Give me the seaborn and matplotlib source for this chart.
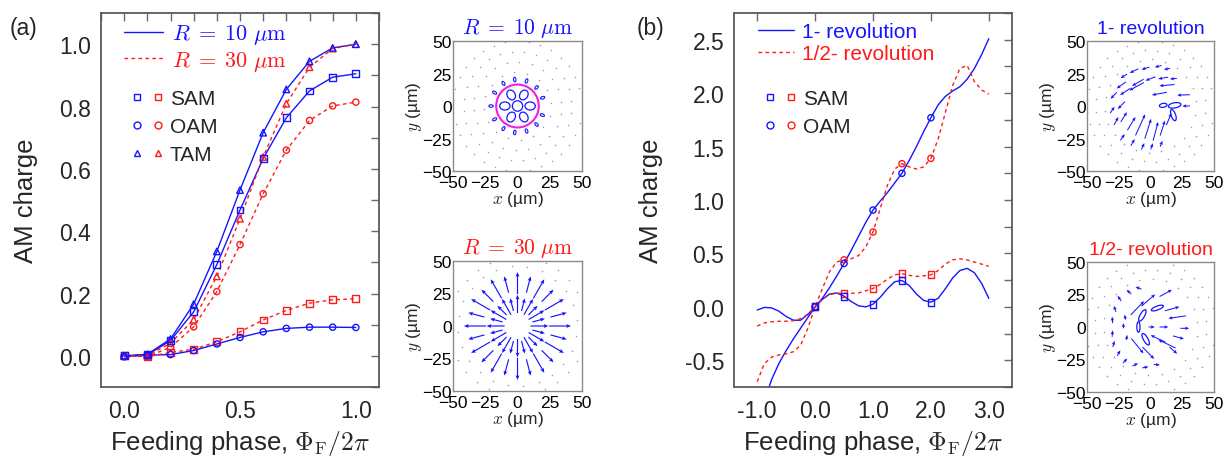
import numpy as np
import matplotlib
matplotlib.use("Agg")
import matplotlib.pyplot as plt
from matplotlib.patches import Ellipse, Circle
from matplotlib.lines import Line2D
from matplotlib.legend_handler import HandlerTuple
from matplotlib.ticker import MultipleLocator, FormatStrFormatter
import seaborn as sns

# ---------------- panel (a): R = 10 um (blue) / R = 30 um (red)
phase_a = [0.0, 0.1, 0.2, 0.3, 0.4, 0.5, 0.6, 0.7, 0.8, 0.9, 1.0]
sam_r10 = [0.0, 0.003, 0.049, 0.141, 0.293, 0.468, 0.633, 0.764, 0.850, 0.894, 0.905]
oam_r10 = [-0.003, 0.002, 0.004, 0.017, 0.038, 0.059, 0.077, 0.088, 0.092, 0.092, 0.091]
tam_r10 = [0.0, 0.005, 0.054, 0.166, 0.335, 0.532, 0.716, 0.855, 0.945, 0.988, 1.0]
sam_r30 = [0.0, -0.003, 0.011, 0.021, 0.045, 0.077, 0.115, 0.146, 0.169, 0.180, 0.183]
oam_r30 = [0.0, -0.002, 0.027, 0.093, 0.206, 0.357, 0.520, 0.660, 0.755, 0.802, 0.814]
tam_r30 = [0.0, 0.0, 0.041, 0.116, 0.255, 0.440, 0.638, 0.809, 0.926, 0.986, 1.0]

# ---------------- panel (b): 1-revolution (blue) / 1/2-revolution (red)
phase_b = [-1.0, -0.875, -0.75, -0.625, -0.5, -0.375, -0.25, -0.125,
           0.0, 0.125, 0.25, 0.375, 0.5, 0.625, 0.75, 0.875,
           1.0, 1.125, 1.25, 1.375, 1.5, 1.625, 1.75, 1.875,
           2.0, 2.125, 2.25, 2.375, 2.5, 2.625, 2.75, 2.875, 3.0]
oam_1rev = [-1.10, -0.88, -0.68, -0.53, -0.41, -0.30, -0.20, -0.10,
            0.0, 0.08, 0.18, 0.29, 0.406, 0.53, 0.66, 0.79,
            0.906, 0.99, 1.07, 1.16, 1.25, 1.37, 1.50, 1.64,
            1.77, 1.89, 1.97, 2.02, 2.06, 2.13, 2.23, 2.36, 2.51]
oam_half = [-0.70, -0.53, -0.47, -0.45, -0.44, -0.42, -0.36, -0.20,
            0.0, 0.17, 0.33, 0.42, 0.44, 0.45, 0.48, 0.56,
            0.70, 0.92, 1.14, 1.29, 1.34, 1.31, 1.29, 1.31,
            1.39, 1.57, 1.82, 2.07, 2.23, 2.26, 2.11, 2.03, 1.99]
sam_1rev = [-0.03, -0.005, -0.01, -0.04, -0.09, -0.125, -0.125, -0.07,
            0.0, 0.07, 0.12, 0.13, 0.10, 0.05, 0.01, 0.0,
            0.025, 0.09, 0.17, 0.235, 0.247, 0.20, 0.12, 0.06,
            0.044, 0.08, 0.17, 0.27, 0.34, 0.36, 0.32, 0.22, 0.08]
sam_half = [-0.18, -0.15, -0.14, -0.135, -0.135, -0.13, -0.11, -0.07,
            0.0, 0.07, 0.115, 0.127, 0.128, 0.127, 0.13, 0.15,
            0.172, 0.21, 0.26, 0.30, 0.31, 0.295, 0.285, 0.29,
            0.30, 0.34, 0.40, 0.44, 0.45, 0.44, 0.42, 0.40, 0.38]
phase_b_pts = [0.0, 0.5, 1.0, 1.5, 2.0]
oam_1rev_pts = [0.0, 0.406, 0.906, 1.25, 1.77]
oam_half_pts = [0.0, 0.44, 0.70, 1.34, 1.39]
sam_1rev_pts = [0.0, 0.10, 0.025, 0.247, 0.044]
sam_half_pts = [0.0, 0.128, 0.172, 0.31, 0.30]

# ---------------- inset fields (positions in um)
# R = 10 um: petals inside the ring, small ellipses outside
r10_petal_ang = [0, 60, 120, 180, 240, 300]
r10_outer_ang = [18, 44, 70, 96, 122, 150, 180, 210, 238, 264, 290, 316, 340]
r10_ring_radius = 16.5
# R = 30 um: radial arrows
r30_ang = list(range(0, 360, 15))
r30_rings = [17, 33]
r30_len_long = [14, 17]
r30_len_short = [10, 13]
# 1-revolution: x, y, direction (deg), length
rev1_x = [-21, -13, -4, 6, 13, -23, -10, 0, 10, 18, -20, -11, 7, 13, 26,
          -29, -23, -30, -27, -21, -15, -8, -2, 4, 9.5, 14.5, -22, -14, -6, 1, 8.5, 28]
rev1_y = [23, 27, 29, 30.5, 28.5, 16, 18, 21, 21.5, 21, 11, 15, 9.5, 16, 8.5,
          8, 0.5, -3, -11.5, -8.5, -13.5, -14.5, -17.5, -19.5, -17, -10, -24, -28, -31, -31, -29, 0]
rev1_dir = [210, 205, 197, 194, 190, 215, 210, 200, 190, 185, 213, 208, 190, 185, 182,
            225, 225, 55, 60, 57, 58, 65, 72, 75, 72, 67, 55, 60, 65, 70, 70, 180]
rev1_len = [6, 7.5, 6.5, 5.5, 5, 9, 10.5, 8.5, 8, 5.5, 9.5, 13, 12, 12, 10,
            7, 8, 6, 7, 9, 12, 18, 16, 15, 12, 10, 6, 6, 5.5, 5, 5, 6]
rev1_ell = [(10, 0.5, 6, 3, 10), (19, 0.5, 10, 4, 10), (18, -7, 3.5, 9, 20)]
# 1/2-revolution: x, y, direction (deg), length
half_x = [-30, -30, -29, -25, -20, -12, -4, 5, -28, -24.5, -17, -9.5,
          -10.3, -1.7, 12, 17, 21, 1, 10.6, 27, -10.3, -1.7, 6, 13, 18, 22,
          -20, -21.3, -18.7]
half_y = [5.5, -5, -13, -20, -26, -29, -31, -29, 14, 22, 27, 30,
          14.6, 20.6, 26, 14, 7.6, 0, 0, -1, -14.6, -20, -9, -13, -18, -8,
          7.6, 1, -8]
half_dir = [95, 85, 75, 60, 45, 25, 10, -5, 110, 125, 140, 160,
            45, 40, 28, 15, 188, 0, 0, 0, -50, -45, 155, 155, -40, -15,
            100, 90, 80]
half_len = [5, 5, 5, 5, 5, 5, 5, 5, 5, 5, 5, 5,
            15, 14, 11, 12, 14, 5, 7, 7, 15, 13, 13, 15, 8, 9,
            4, 4, 4]
half_ell = [(-9.5, 0, 2.5, 8, 0), (-6.4, 8.9, 3.5, 10, -30), (5.4, 14.6, 10, 3, 20),
            (-3.8, -9.4, 3.5, 10, 30)]

BLUE = "#1515ff"
RED = "#ff1a1a"
DOT = "#9a9ac0"

sns.set_theme(style="white")
plt.rcParams["font.family"] = ["Liberation Sans", "DejaVu Sans"]
plt.rcParams["mathtext.fontset"] = "cm"

W, H = 1225, 460
fig = plt.figure(figsize=(W / 100, H / 100), dpi=100)


def px_axes(l, t, r, b):
    return fig.add_axes([l / W, 1 - b / H, (r - l) / W, (b - t) / H])


def style_main(ax, xlim, ylim, xmaj, xmin, ymaj, ymin):
    ax.set_xlim(*xlim)
    ax.set_ylim(*ylim)
    ax.xaxis.set_major_locator(MultipleLocator(xmaj))
    ax.xaxis.set_minor_locator(MultipleLocator(xmin))
    ax.yaxis.set_major_locator(MultipleLocator(ymaj))
    ax.yaxis.set_minor_locator(MultipleLocator(ymin))
    ax.xaxis.set_major_formatter(FormatStrFormatter("%.1f"))
    ax.yaxis.set_major_formatter(FormatStrFormatter("%.1f"))
    ax.tick_params(which="both", direction="in", top=True, right=True,
                   length=6, width=1, color="#6a6a6a", labelsize=16.5)
    ax.tick_params(axis="x", pad=9)
    ax.tick_params(axis="y", pad=7)
    for s in ax.spines.values():
        s.set_color("#5a5a5a")
        s.set_linewidth(1.3)
    ax.set_xlabel(r"Feeding phase, $\Phi_\mathrm{F}/2\pi$", fontsize=18.5)
    ax.set_ylabel("AM charge", fontsize=18.5)


def curve(ax, x, y, color, dashed):
    ls = (0, (2.6, 2.4)) if dashed else "-"
    sns.lineplot(x=x, y=y, ax=ax, color=color, lw=1.0, linestyle=ls, sort=False)


def pts(ax, x, y, color, marker, size):
    sns.scatterplot(x=x, y=y, ax=ax, marker=marker, s=size, facecolor="none",
                    edgecolor=color, linewidth=1.0, zorder=5)


def marker_legend(ax, names, markers, anchor):
    handles = []
    for m in markers:
        handles.append((Line2D([], [], marker=m, ls="none", mfc="none", mec=BLUE, ms=5, mew=1),
                        Line2D([], [], marker=m, ls="none", mfc="none", mec=RED, ms=5, mew=1)))
    leg = ax.legend(handles, names, handler_map={tuple: HandlerTuple(ndivide=None, pad=0.8)},
                    loc="upper left", bbox_to_anchor=anchor, frameon=False, fontsize=15,
                    handlelength=1.25, handletextpad=0.45, labelspacing=0.44,
                    borderaxespad=0, borderpad=0)
    return leg


def line_legend(ax, labels, anchor, size):
    handles = [Line2D([], [], color=BLUE, lw=1.0),
               Line2D([], [], color=RED, lw=1.0, ls=(0, (2.6, 2.4)))]
    leg = ax.legend(handles, labels, loc="upper left", bbox_to_anchor=anchor, frameon=False,
                    fontsize=size, handlelength=1.75, handletextpad=0.4, labelspacing=0.12,
                    borderaxespad=0, borderpad=0)
    leg.get_texts()[0].set_color(BLUE)
    leg.get_texts()[1].set_color(RED)
    ax.add_artist(leg)
    return leg


def style_inset(ax, title, tcolor, tsize):
    ax.set_xlim(-50, 50)
    ax.set_ylim(-50, 50)
    ax.set_xticks([-50, -25, 0, 25, 50])
    ax.set_yticks([-50, -25, 0, 25, 50])
    ax.tick_params(length=0, labelsize=12.5, colors="black")
    ax.tick_params(axis="x", pad=3)
    ax.tick_params(axis="y", pad=1)
    for s in ax.spines.values():
        s.set_color("#8a8a8a")
        s.set_linewidth(1.0)
    ax.set_xlabel(r"$x$ (µm)", fontsize=12.5, labelpad=-1)
    ax.set_ylabel(r"$y$ (µm)", fontsize=12.5, labelpad=-1)
    ax.set_title(title, color=tcolor, fontsize=tsize, pad=6)


def ring_dots(ax, radii, counts):
    for r, n in zip(radii, counts):
        a = np.linspace(0, 2 * np.pi, n, endpoint=False) + 0.1
        ax.scatter(r * np.cos(a), r * np.sin(a), s=1.3, color=DOT, lw=0)


def arrows(ax, x, y, d, L, width=0.008):
    x, y, d, L = map(np.asarray, (x, y, d, L))
    u = L * np.cos(np.deg2rad(d))
    v = L * np.sin(np.deg2rad(d))
    ax.quiver(x, y, u, v, angles="xy", scale_units="xy", scale=1, pivot="mid",
              color=BLUE, width=width, headwidth=3.4, headlength=4, headaxislength=3.5)


def ellipses(ax, items, lw=0.9):
    for (cx, cy, w, h, ang) in items:
        ax.add_patch(Ellipse((cx, cy), w, h, angle=ang, fill=False, ec=BLUE, lw=lw))


R10 = r"$R\;=\;10\ \mu\mathrm{m}$"
R30 = r"$R\;=\;30\ \mu\mathrm{m}$"

# ---------------- panel (a)
axA = px_axes(101, 14, 379, 388)
curve(axA, phase_a, tam_r10, BLUE, False)
curve(axA, phase_a, sam_r10, BLUE, False)
curve(axA, phase_a, oam_r10, BLUE, False)
curve(axA, phase_a, tam_r30, RED, True)
curve(axA, phase_a, oam_r30, RED, True)
curve(axA, phase_a, sam_r30, RED, True)
pts(axA, phase_a, sam_r30, RED, "s", 24)
pts(axA, phase_a, oam_r30, RED, "o", 20)
pts(axA, phase_a, tam_r30, RED, "^", 22)
pts(axA, phase_a, sam_r10, BLUE, "s", 24)
pts(axA, phase_a, oam_r10, BLUE, "o", 20)
pts(axA, phase_a, tam_r10, BLUE, "^", 22)
style_main(axA, (-0.1, 1.1), (-0.1, 1.1), 0.5, 0.1, 0.2, 0.1)
line_legend(axA, [R10, R30], (0.083, 0.975), 16)
marker_legend(axA, ["SAM", "OAM", "TAM"], ["s", "o", "^"], (0.12, 0.797))
axA.yaxis.set_label_coords(-0.225, 0.5)
axA.xaxis.set_label_coords(0.5, -0.11)
fig.text(10 / W, 1 - 28 / H, "(a)", fontsize=16.5, va="center", ha="left")

# ---------------- panel (b)
axB = px_axes(734, 14, 1012, 388)
curve(axB, phase_b, oam_1rev, BLUE, False)
curve(axB, phase_b, sam_1rev, BLUE, False)
curve(axB, phase_b, oam_half, RED, True)
curve(axB, phase_b, sam_half, RED, True)
pts(axB, phase_b_pts, sam_half_pts, RED, "s", 24)
pts(axB, phase_b_pts, oam_half_pts, RED, "o", 20)
pts(axB, phase_b_pts, sam_1rev_pts, BLUE, "s", 24)
pts(axB, phase_b_pts, oam_1rev_pts, BLUE, "o", 20)
style_main(axB, (-1.4, 3.4), (-0.75, 2.75), 1.0, 1.0, 0.5, 0.25)
line_legend(axB, ["1- revolution", "1/2- revolution"], (0.085, 0.975), 15)
marker_legend(axB, ["SAM", "OAM"], ["s", "o"], (0.12, 0.797))
axB.yaxis.set_label_coords(-0.255, 0.5)
axB.xaxis.set_label_coords(0.5, -0.11)
fig.text(637 / W, 1 - 28 / H, "(b)", fontsize=16.5, va="center", ha="left")

# ---------------- inset R = 10 um
ax1 = px_axes(453, 42, 582, 172)
style_inset(ax1, R10, BLUE, 15.5)
ring_dots(ax1, [26, 34, 42, 50], [16, 22, 28, 34])
for a in r10_petal_ang:
    t = np.deg2rad(a)
    ax1.add_patch(Ellipse((9.8 * np.cos(t), 9.8 * np.sin(t)), 8, 6.2, angle=a,
                          fill=False, ec=BLUE, lw=0.9))
for a in r10_outer_ang:
    t = np.deg2rad(a)
    ax1.add_patch(Ellipse((20.5 * np.cos(t), 20.5 * np.sin(t)), 3.4, 1.9, angle=a,
                          fill=False, ec=BLUE, lw=0.8))
ax1.add_patch(Circle((0, 0), 4, fill=False, ec=BLUE, lw=0.9))
ax1.add_patch(Circle((0, 0), r10_ring_radius, fill=False, ec="#ee22dd", lw=1.5))

# ---------------- inset R = 30 um
ax2 = px_axes(453, 262, 582, 392)
style_inset(ax2, R30, RED, 15.5)
ring_dots(ax2, [46, 53], [24, 30])
ax_, ay_, ad_, al_ = [], [], [], []
for i, a in enumerate(r30_ang):
    t = np.deg2rad(a)
    lens = r30_len_long if i % 2 == 0 else r30_len_short
    for r, L in zip(r30_rings, lens):
        ax_.append(r * np.cos(t))
        ay_.append(r * np.sin(t))
        ad_.append(a)
        al_.append(L)
arrows(ax2, ax_, ay_, ad_, al_, width=0.009)

# ---------------- inset 1-revolution
ax3 = px_axes(1087, 42, 1214, 172)
style_inset(ax3, "1- revolution", BLUE, 14)
ring_dots(ax3, [36, 43, 50], [22, 28, 34])
arrows(ax3, rev1_x, rev1_y, rev1_dir, rev1_len)
ellipses(ax3, rev1_ell)

# ---------------- inset 1/2-revolution
ax4 = px_axes(1087, 263, 1214, 393)
style_inset(ax4, "1/2- revolution", RED, 14)
ring_dots(ax4, [37, 44, 51], [22, 28, 34])
arrows(ax4, half_x, half_y, half_dir, half_len)
ellipses(ax4, half_ell)

fig.savefig("out.png", dpi=100)
